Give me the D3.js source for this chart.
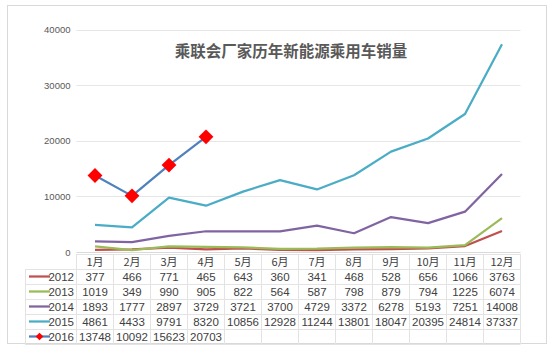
<!DOCTYPE html>
<html><head><meta charset="utf-8">
<script src="https://cdn.jsdelivr.net/npm/d3@7"></script>
<style>body{margin:0;background:#fff;}</style>
</head><body>
<svg id="c" width="555" height="347"></svg>
<script>
const months = ["1月","2月","3月","4月","5月","6月","7月","8月","9月","10月","11月","12月"];
const seriesNames = ["2012","2013","2014","2015","2016"];
const s2012 = [377,466,771,465,643,360,341,468,528,656,1066,3763];
const s2013 = [1019,349,990,905,822,564,587,798,879,794,1225,6074];
const s2014 = [1893,1777,2897,3729,3721,3700,4729,3372,6278,5193,7251,14008];
const s2015 = [4861,4433,9791,8320,10856,12928,11244,13801,18047,20395,24814,37337];
const s2016 = [13748,10092,15623,20703];
const yTicks = [0,10000,20000,30000,40000];
const title = "乘联会厂家历年新能源乘用车销量";

const colors = ["#C0504D","#9BBB59","#8064A2","#4BACC6","#4F81BD"];
const allSeries = [s2012,s2013,s2014,s2015,s2016];

const svg = d3.select("#c");
const x0 = 76.5, x1 = 520.5, yTop = 29.5, yBot = 252;
const x = d3.scaleBand().domain(months).range([x0,x1]);
const y = d3.scaleLinear().domain([0,40000]).range([yBot,yTop]);
const cx = m => x(m) + x.bandwidth()/2;

// outer frame
svg.append("rect").attr("x",7.5).attr("y",5.5).attr("width",539).attr("height",338)
  .attr("fill","#fff").attr("stroke","#d9d9d9");

// gridlines
svg.append("g").selectAll("line").data(yTicks.slice(1)).join("line")
  .attr("x1",x0).attr("x2",x1).attr("y1",d=>Math.round(y(d))+0.5).attr("y2",d=>Math.round(y(d))+0.5)
  .attr("stroke","#e6e6e6");

// y axis labels
const yAxis = d3.axisLeft(y).tickValues(yTicks).tickSize(0).tickPadding(0).tickFormat(d3.format("d"));
const ga = svg.append("g").attr("transform",`translate(${x0-6},0)`).call(yAxis);
ga.select(".domain").remove();
ga.selectAll("text").attr("font-family","Liberation Sans, Arial, sans-serif").attr("font-size",9.5).attr("fill","#595959");

// title
svg.append("text").attr("x",291).attr("y",57).attr("text-anchor","middle")
  .attr("font-family","Noto Sans CJK SC").attr("font-size",15.5).attr("font-weight","bold").attr("fill","#595959")
  .text(title);

// lines
const line = d3.line().x((d,i)=>cx(months[i])).y(d=>y(d));
allSeries.forEach((s,k)=>{
  svg.append("path").datum(s).attr("d",line).attr("fill","none")
    .attr("stroke",colors[k]).attr("stroke-width",2.25).attr("stroke-linejoin","round");
});
// markers 2016
svg.append("g").selectAll("path").data(s2016).join("path")
  .attr("d",d3.symbol(d3.symbolSquare, 110))
  .attr("transform",(d,i)=>`translate(${cx(months[i])},${y(d)}) rotate(45)`)
  .attr("fill","#FF0000");

// data table
const rowH = 15, tTop = 254;
const tableLeft = 25;
const g = svg.append("g");
const nRows = 6;
for(let r=0;r<=nRows;r++){
  const yy = tTop + r*rowH + 0.5;
  g.append("line").attr("x1", r===0? x0 : tableLeft).attr("x2",x1).attr("y1",yy).attr("y2",yy).attr("stroke","#e3e3e3");
}
const vx = [x0, ...months.map(m=>x(m)+x.bandwidth())];
vx.forEach(v=>{
  g.append("line").attr("x1",v).attr("x2",v).attr("y1",tTop).attr("y2",tTop+nRows*rowH).attr("stroke","#e3e3e3");
});
g.append("line").attr("x1",tableLeft+0.5).attr("x2",tableLeft+0.5).attr("y1",tTop+rowH).attr("y2",tTop+nRows*rowH).attr("stroke","#e3e3e3");
svg.append("line").attr("x1",x0).attr("x2",x1).attr("y1",yBot+0.5).attr("y2",yBot+0.5).attr("stroke","#d9d9d9");

const font = "Liberation Sans, Arial, sans-serif";
const cjk = "Noto Sans CJK SC";
g.selectAll("text.h").data(months).join("text").attr("class","h")
  .attr("x",d=>cx(d)).attr("y",tTop+rowH/2+4).attr("text-anchor","middle")
  .attr("font-family",cjk).attr("font-size",11).attr("fill","#404040").text(d=>d);
allSeries.forEach((s,k)=>{
  const yy = tTop + (k+1)*rowH + rowH/2;
  g.selectAll("text.r"+k).data(s).join("text").attr("class","r"+k)
    .attr("x",(d,i)=>cx(months[i])).attr("y",yy+4).attr("text-anchor","middle")
    .attr("font-family",font).attr("font-size",11.5).attr("fill","#404040").text(d=>d);
  g.append("line").attr("x1",29).attr("x2",50).attr("y1",yy).attr("y2",yy)
    .attr("stroke",colors[k]).attr("stroke-width",2.25);
  if(k===4){
    g.append("path").attr("d",d3.symbol(d3.symbolSquare,30)).attr("transform",`translate(39.5,${yy}) rotate(45)`).attr("fill","#FF0000");
  }
  g.append("text").attr("x",74).attr("y",yy+4).attr("text-anchor","end")
    .attr("font-family",font).attr("font-size",11.5).attr("fill","#404040").text(seriesNames[k]);
});
</script>
</body></html>
